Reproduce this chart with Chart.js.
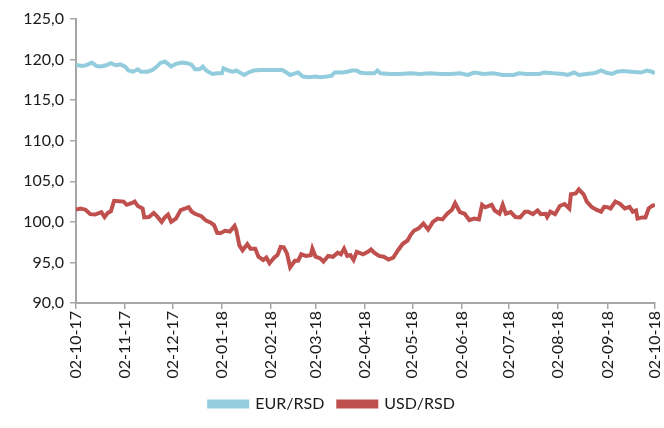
<!DOCTYPE html>
<html>
<head>
<meta charset="utf-8">
<script src="https://cdn.jsdelivr.net/npm/chart.js@4.4.0/dist/chart.umd.min.js"></script>
<style>
  html, body { margin: 0; padding: 0; background: #fff; }
  #wrap { width: 664px; height: 428px; }
</style>
</head>
<body>
<div id="wrap"><canvas id="fx" width="664" height="428"></canvas></div>
<script>
// days counted from 02-10-17
const tickDays = [0, 31, 61, 92, 123, 151, 182, 212, 243, 273, 304, 335, 365];
const tickLabels = ['02-10-17', '02-11-17', '02-12-17', '02-01-18', '02-02-18', '02-03-18', '02-04-18',
    '02-05-18', '02-06-18', '02-07-18', '02-08-18', '02-09-18', '02-10-18'];

const eurDays = [0, 4, 7, 10, 13, 16, 19, 22, 25, 28, 31, 33, 36, 39, 41, 45, 48, 51, 53, 56, 58, 60, 63, 67, 70,
    73, 75, 78, 80, 82, 86, 89, 92, 93, 96, 99, 101, 106, 109, 112, 116, 120, 126, 130, 132, 135, 138, 140, 143,
    147, 151, 154, 158, 161, 163, 168, 171, 174, 177, 179, 183, 188, 190, 192, 198, 204, 211, 217, 223, 230, 236,
    242, 247, 251, 257, 263, 269, 276, 279, 284, 292, 295, 301, 307, 310, 314, 317, 322, 326, 328, 331, 334, 338,
    341, 345, 350, 356, 360, 363, 365];
const eurRsd = [119.35, 119.2, 119.35, 119.63, 119.2, 119.14, 119.3, 119.55, 119.3, 119.4, 119.14, 118.65, 118.5,
    118.8, 118.5, 118.5, 118.7, 119.14, 119.55, 119.76, 119.47, 119.14, 119.47, 119.63, 119.55, 119.35, 118.8,
    118.8, 119.14, 118.65, 118.23, 118.3, 118.3, 118.93, 118.65, 118.5, 118.65, 118.1, 118.44, 118.65, 118.7,
    118.7, 118.7, 118.7, 118.5, 118.1, 118.3, 118.4, 117.9, 117.82, 117.9, 117.82, 117.9, 118.0, 118.4, 118.4,
    118.5, 118.65, 118.65, 118.4, 118.3, 118.3, 118.65, 118.3, 118.23, 118.23, 118.3, 118.23, 118.3, 118.23,
    118.23, 118.3, 118.1, 118.4, 118.23, 118.3, 118.1, 118.1, 118.3, 118.23, 118.23, 118.4, 118.3, 118.23, 118.1,
    118.4, 118.1, 118.23, 118.3, 118.4, 118.65, 118.4, 118.23, 118.5, 118.6, 118.5, 118.4, 118.65, 118.5, 118.3];

const usdDays = [0, 3, 6, 9, 12, 16, 18, 20, 22, 24, 27, 30, 32, 35, 37, 39, 42, 43, 46, 49, 51, 54, 56, 58, 60, 63,
    66, 69, 71, 73, 75, 79, 82, 85, 87, 89, 91, 94, 97, 100, 101, 103, 105, 108, 110, 113, 115, 118, 120, 122, 125,
    127, 129, 131, 133, 135, 138, 140, 142, 145, 148, 149, 151, 154, 156, 159, 162, 165, 167, 169, 171, 173, 175,
    177, 181, 184, 186, 188, 191, 194, 197, 200, 203, 206, 209, 211, 213, 216, 219, 222, 225, 228, 231, 234, 237,
    239, 242, 245, 248, 251, 254, 256, 258, 262, 264, 267, 269, 271, 274, 277, 280, 283, 285, 288, 291, 293, 296,
    297, 299, 302, 305, 308, 311, 312, 315, 317, 320, 322, 325, 328, 331, 333, 335, 337, 340, 343, 346, 349, 351,
    353, 354, 357, 359, 361, 363, 365];
const usdRsd = [101.5, 101.65, 101.5, 100.95, 100.9, 101.2, 100.6, 101.1, 101.3, 102.6, 102.55, 102.5, 102.1, 102.3,
    102.5, 101.95, 101.65, 100.55, 100.6, 101.1, 100.7, 100.0, 100.55, 100.9, 100.0, 100.4, 101.45, 101.65, 101.8,
    101.25, 101.0, 100.7, 100.15, 99.9, 99.6, 98.65, 98.6, 98.9, 98.8, 99.5, 99.0, 97.1, 96.5, 97.25, 96.7, 96.7,
    95.7, 95.3, 95.6, 94.9, 95.6, 95.9, 96.9, 96.85, 96.1, 94.4, 95.2, 95.2, 96.0, 95.8, 95.9, 96.7, 95.7, 95.5,
    95.1, 95.8, 95.7, 96.2, 96.0, 96.7, 95.8, 95.9, 95.3, 96.3, 96.0, 96.3, 96.6, 96.2, 95.8, 95.7, 95.35, 95.6,
    96.5, 97.3, 97.7, 98.4, 98.9, 99.2, 99.8, 99.05, 100.0, 100.4, 100.3, 101.0, 101.5, 102.3, 101.2, 101.0, 100.2,
    100.4, 100.3, 102.1, 101.8, 102.1, 101.4, 101.0, 102.1, 101.0, 101.2, 100.6, 100.55, 101.25, 101.25, 100.95,
    101.4, 100.95, 101.0, 100.6, 101.25, 100.95, 101.95, 102.2, 101.65, 103.4, 103.5, 104.0, 103.4, 102.5, 101.85,
    101.5, 101.25, 101.85, 101.8, 101.65, 102.5, 102.2, 101.65, 101.85, 101.25, 101.4, 100.4, 100.55, 100.55,
    101.65, 101.95, 102.1];

const axisGrey = '#A6A6A6';
const txt = '#1a1a1a';
const fnt = { family: 'Lato', size: 16 };

function pts(days, vals) {
    return days.map((d, i) => ({ x: d, y: vals[i] }));
}

const data = {
    datasets: [{
            label: 'EUR/RSD',
            data: pts(eurDays, eurRsd),
            borderColor: '#93CDDD',
            backgroundColor: '#93CDDD',
            borderWidth: 4,
            pointRadius: 0,
            tension: 0
        }, {
            label: 'USD/RSD',
            data: pts(usdDays, usdRsd),
            borderColor: '#C0504D',
            backgroundColor: '#C0504D',
            borderWidth: 4,
            pointRadius: 0,
            tension: 0
        }]
};

const config = {
    type: 'line',
    data: data,
    options: {
        responsive: false,
        animation: false,
        layout: { padding: { top: 19, right: 0, bottom: 6, left: 0 } },
        plugins: {
            tooltip: { enabled: false },
            legend: {
                position: 'bottom',
                labels: { color: txt, font: fnt, boxWidth: 38, boxHeight: 5, padding: 14 }
            }
        },
        scales: {
            x: {
                type: 'linear',
                min: 0,
                max: 365,
                afterBuildTicks: axis => { axis.ticks = tickDays.map(v => ({ value: v })); },
                afterFit: scale => {
                    scale.height = 79;
                    scale.paddingRight = 9;
                    scale.paddingLeft = 0;
                },
                ticks: {
                    autoSkip: false,
                    minRotation: 90,
                    maxRotation: 90,
                    color: txt,
                    font: fnt,
                    padding: 2,
                    callback: v => tickLabels[tickDays.indexOf(v)]
                },
                grid: { drawOnChartArea: false, color: axisGrey, tickLength: 6, lineWidth: 1.5 },
                border: { color: axisGrey, width: 2 }
            },
            y: {
                min: 90,
                max: 125,
                afterFit: scale => { scale.width = 76; },
                ticks: {
                    stepSize: 5,
                    color: txt,
                    font: fnt,
                    padding: 6,
                    callback: v => v.toFixed(1).replace('.', ',')
                },
                grid: { drawOnChartArea: false, color: axisGrey, tickLength: 6, lineWidth: 1.5 },
                border: { color: axisGrey, width: 2 }
            }
        }
    }
};

let ctx = document.getElementById('fx').getContext('2d');
new Chart(ctx, config);
</script>
</body>
</html>
